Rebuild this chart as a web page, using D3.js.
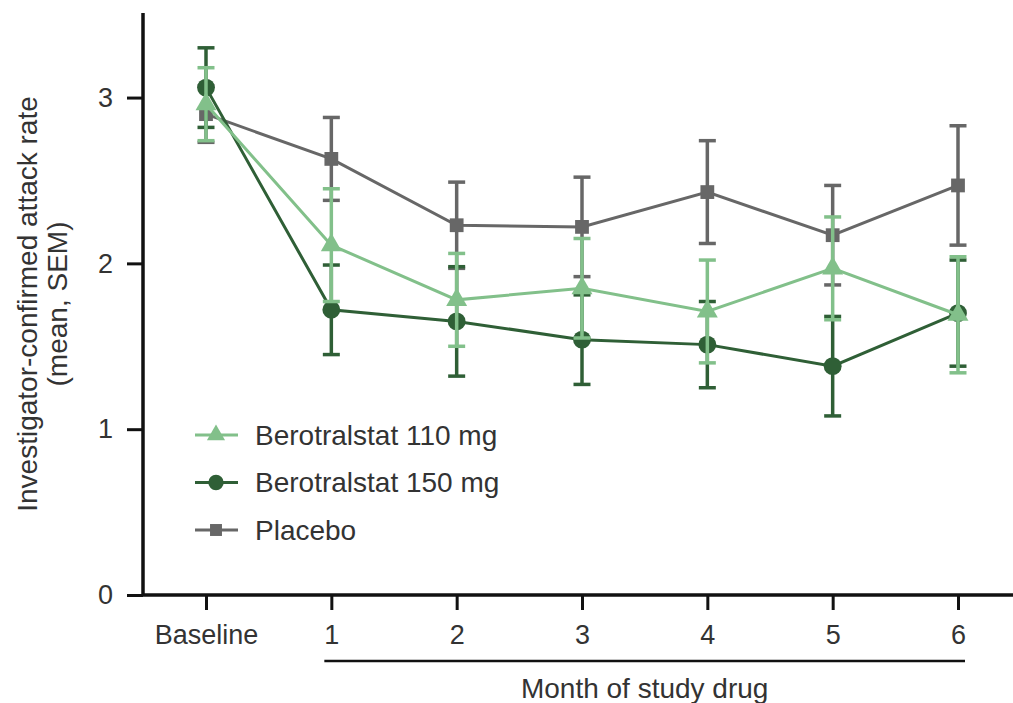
<!DOCTYPE html>
<html>
<head>
<meta charset="utf-8">
<script src="https://cdn.jsdelivr.net/npm/d3@7"></script>
<style>
  body { margin: 0; background: #fff; }
  svg { font-family: "Liberation Sans", Arial, sans-serif; }
</style>
</head>
<body>
<svg id="chart" width="1013" height="703"></svg>
<script>
const categories = ["Baseline", "1", "2", "3", "4", "5", "6"];

const mean110 = [2.96, 2.11, 1.78, 1.85, 1.71, 1.97, 1.69];
const sem110  = [0.22, 0.34, 0.28, 0.30, 0.31, 0.31, 0.35];

const mean150 = [3.06, 1.72, 1.65, 1.54, 1.51, 1.38, 1.70];
const sem150  = [0.24, 0.27, 0.33, 0.27, 0.26, 0.30, 0.32];

const meanPbo = [2.90, 2.63, 2.23, 2.22, 2.43, 2.17, 2.47];
const semPbo  = [0.17, 0.25, 0.26, 0.30, 0.31, 0.30, 0.36];

const yTicks = [0, 1, 2, 3];

const series = [
  { name: "Placebo", mean: meanPbo, sem: semPbo, color: "#676767", shape: "square" },
  { name: "Berotralstat 150 mg", mean: mean150, sem: sem150, color: "#2f5f36", shape: "circle" },
  { name: "Berotralstat 110 mg", mean: mean110, sem: sem110, color: "#82c08a", shape: "triangle" }
];
const legendOrder = ["Berotralstat 110 mg", "Berotralstat 150 mg", "Placebo"];

const svg = d3.select("#chart");
const axisX = 143, axisY = 595;

const x = d3.scalePoint().domain(categories).range([206, 958]);
const y = d3.scaleLinear().domain([0, 3.51]).range([axisY, 13]);

const symbolOf = s => s === "square" ? d3.symbolSquare : s === "circle" ? d3.symbolCircle : d3.symbolTriangle;
const sizeOf = s => s === "square" ? 190 : s === "circle" ? 250 : 190;

// series
series.forEach(s => {
  const g = svg.append("g");
  const pts = categories.map((c, i) => ({ c, m: s.mean[i], e: s.sem[i] }));

  g.append("path")
    .datum(pts)
    .attr("fill", "none")
    .attr("stroke", s.color)
    .attr("stroke-width", 3)
    .attr("d", d3.line().x(d => x(d.c)).y(d => y(d.m)));

  const eb = g.selectAll(".eb").data(pts).join("g")
    .attr("stroke", s.color).attr("stroke-width", 3.5);
  eb.append("line")
    .attr("x1", d => x(d.c)).attr("x2", d => x(d.c))
    .attr("y1", d => y(d.m - d.e)).attr("y2", d => y(d.m + d.e));
  eb.append("line")
    .attr("x1", d => x(d.c) - 8.5).attr("x2", d => x(d.c) + 8.5)
    .attr("y1", d => y(d.m + d.e)).attr("y2", d => y(d.m + d.e));
  eb.append("line")
    .attr("x1", d => x(d.c) - 8.5).attr("x2", d => x(d.c) + 8.5)
    .attr("y1", d => y(d.m - d.e)).attr("y2", d => y(d.m - d.e));

  g.selectAll(".pt").data(pts).join("path")
    .attr("transform", d => `translate(${x(d.c)},${y(d.m)})`)
    .attr("d", d3.symbol().type(symbolOf(s.shape)).size(sizeOf(s.shape)))
    .attr("fill", s.color);
});

// axes
const yAxis = svg.append("g")
  .attr("transform", `translate(${axisX},0)`)
  .call(d3.axisLeft(y).tickValues(yTicks).tickSize(16).tickPadding(14).tickFormat(d3.format("d")));
yAxis.select(".domain").attr("d", `M0,13V${axisY}`).attr("stroke-width", 3.5).attr("stroke", "#111");
yAxis.selectAll(".tick line").attr("stroke-width", 3).attr("stroke", "#111");
yAxis.selectAll(".tick text").attr("font-size", 27).attr("fill", "#333");

const xAxis = svg.append("g")
  .attr("transform", `translate(0,${axisY})`)
  .call(d3.axisBottom(x).tickSize(15).tickPadding(15));
xAxis.select(".domain").attr("d", `M${axisX},0H1013`).attr("stroke-width", 3.5).attr("stroke", "#111");
xAxis.selectAll(".tick line").attr("stroke-width", 3).attr("stroke", "#111");
xAxis.selectAll(".tick text").attr("font-size", 27).attr("fill", "#333");

// bracket under months
svg.append("line")
  .attr("x1", x("1") - 7).attr("x2", x("6") + 7)
  .attr("y1", 661).attr("y2", 661)
  .attr("stroke", "#111").attr("stroke-width", 2.5);
svg.append("text")
  .attr("x", (x("1") + x("6")) / 2).attr("y", 698)
  .attr("text-anchor", "middle").attr("font-size", 28).attr("fill", "#333")
  .text("Month of study drug");

// y label
const yl = svg.append("text")
  .attr("transform", "translate(37,304) rotate(-90)")
  .attr("text-anchor", "middle").attr("font-size", 28).attr("fill", "#333");
yl.append("tspan").attr("x", 0).attr("dy", 0).text("Investigator-confirmed attack rate");
yl.append("tspan").attr("x", 0).attr("dy", 30).text("(mean, SEM)");

// legend
const lg = svg.append("g").attr("transform", "translate(195,435)");
legendOrder.forEach((name, i) => {
  const s = series.find(d => d.name === name);
  const row = lg.append("g").attr("transform", `translate(0,${i * 47.5})`);
  row.append("line").attr("x1", 0).attr("x2", 43).attr("stroke", s.color).attr("stroke-width", 3);
  row.append("path")
    .attr("transform", "translate(21,0)")
    .attr("d", d3.symbol().type(symbolOf(s.shape)).size(sizeOf(s.shape) * 0.75))
    .attr("fill", s.color);
  row.append("text").attr("x", 60).attr("y", 0).attr("dy", "0.35em")
    .attr("font-size", 28).attr("fill", "#333").text(name);
});
</script>
</body>
</html>
